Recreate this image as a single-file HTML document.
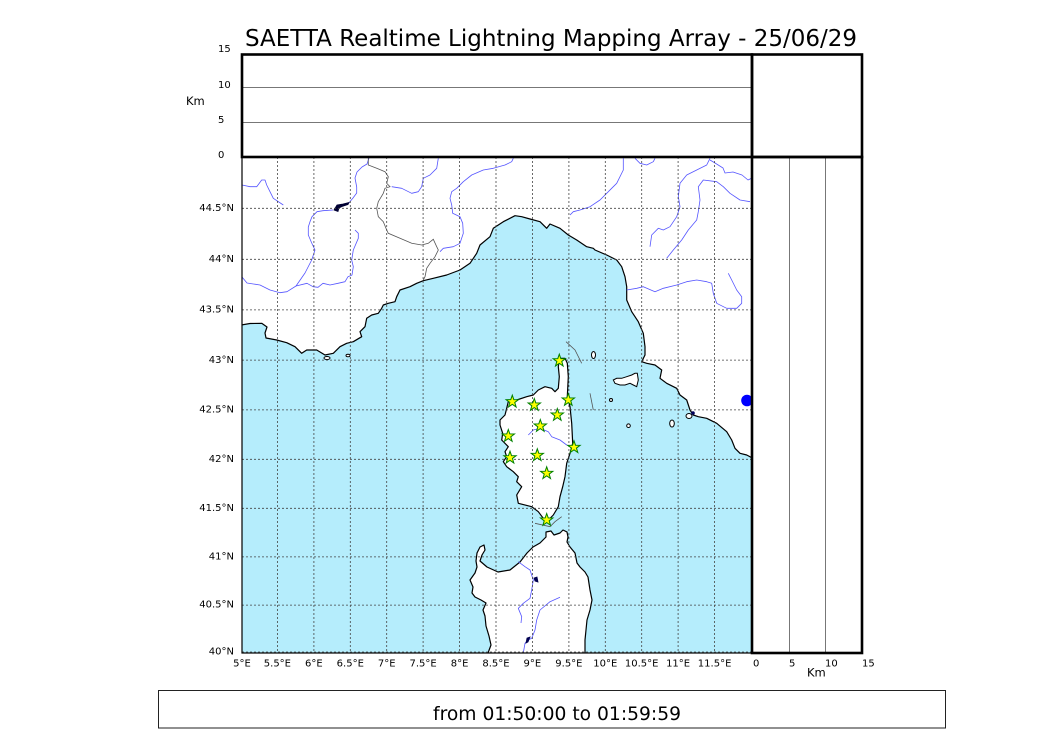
<!DOCTYPE html>
<html><head><meta charset="utf-8"><style>
html,body{margin:0;padding:0;background:#fff;}
svg{display:block;}
text{font-family:"DejaVu Sans","Liberation Sans",sans-serif;fill:#000;}
</style></head><body>
<svg width="1050" height="750" viewBox="0 0 1050 750" xmlns="http://www.w3.org/2000/svg">
<defs>
<polygon id="st" points="0,-6.5 1.53,-2.1 6.18,-2.01 2.47,0.8 3.82,5.26 0,2.6 -3.82,5.26 -2.47,0.8 -6.18,-2.01 -1.53,-2.1"/>
<clipPath id="mc"><rect x="242" y="157" width="510" height="496"/></clipPath>
</defs>
<rect width="1050" height="750" fill="#fff"/>
<text x="245" y="46" font-size="23" textLength="612" lengthAdjust="spacingAndGlyphs">SAETTA Realtime Lightning Mapping Array - 25/06/29</text>

<!-- map -->
<g clip-path="url(#mc)">
<rect x="242" y="157" width="510" height="496" fill="#b5edfc"/>
<!-- mainland -->
<polygon fill="#fff" points="242,325 250,323.5 261.7,323.3 267,327 265,333 266,338 276.7,340 286.7,342.7 295,346.7 301.7,353.3 306.7,350 316.7,350 325,355 333.3,353.3 340,346.7 346.7,343.3 353.3,341.7 361.7,336.7 360,331.7 365,326.7 366.7,318.3 371.7,315 378.3,313.3 381.7,308.3 383.3,305 388.3,303.3 395,301.7 396.7,296.7 400,290 410,286.7 416.7,283.3 423.3,280.7 433.3,278.3 446.7,275 460,270 470,263.3 476.7,253.3 480,245 490,236.7 493.3,228.3 503.3,221.7 515,215.7 521.7,216.7 530,219 540,221.7 546.7,228.3 550,224 560,228.3 568.3,235 576.7,240 586.7,246.7 593.3,248.3 595,250 606.7,255 616.7,260 621.7,266.7 625,276.7 626.7,286.7 626.7,300 631.7,311.7 638.3,321.7 643.3,333.3 645,346.7 645,355 641.7,361.7 646.7,363.3 655,365 661.7,370 660,378.3 666.7,383.3 676.7,388.3 680,395 686.7,400 690,410 693.3,415 698.3,416.7 706.7,418.3 716.7,423.3 726.7,431.7 731.7,440 735,448.3 740,453.3 746.7,455 753,458.3 753,156 241,156 241,325"/>
<polyline fill="none" stroke="#000" stroke-width="1.2" stroke-linejoin="round" points="241,325 250,323.5 261.7,323.3 267,327 265,333 266,338 276.7,340 286.7,342.7 295,346.7 301.7,353.3 306.7,350 316.7,350 325,355 333.3,353.3 340,346.7 346.7,343.3 353.3,341.7 361.7,336.7 360,331.7 365,326.7 366.7,318.3 371.7,315 378.3,313.3 381.7,308.3 383.3,305 388.3,303.3 395,301.7 396.7,296.7 400,290 410,286.7 416.7,283.3 423.3,280.7 433.3,278.3 446.7,275 460,270 470,263.3 476.7,253.3 480,245 490,236.7 493.3,228.3 503.3,221.7 515,215.7 521.7,216.7 530,219 540,221.7 546.7,228.3 550,224 560,228.3 568.3,235 576.7,240 586.7,246.7 593.3,248.3 595,250 606.7,255 616.7,260 621.7,266.7 625,276.7 626.7,286.7 626.7,300 631.7,311.7 638.3,321.7 643.3,333.3 645,346.7 645,355 641.7,361.7 646.7,363.3 655,365 661.7,370 660,378.3 666.7,383.3 676.7,388.3 680,395 686.7,400 690,410 693.3,415 698.3,416.7 706.7,418.3 716.7,423.3 726.7,431.7 731.7,440 735,448.3 740,453.3 746.7,455 753,458.3"/>
<!-- Corsica -->
<polygon fill="#fff" stroke="#000" stroke-width="1.2" stroke-linejoin="round" points="560,358.3 565,358.3 567.3,363.3 568.3,376.7 567.3,396.7 570,406.7 571.7,423.3 572.7,443.3 570,453.3 566.7,463.3 565,476.7 562.7,486.7 560,496.7 558.3,506.7 553.3,515 548.3,520 543.3,518.3 538.3,511.7 531.7,506.7 518.3,503.3 516.7,495 521.7,486.7 516.7,481.7 518.3,476.7 513.3,471.7 506.7,466.7 503.3,461.7 506.7,456.7 505,451.7 508.3,446.7 501.7,440 502.7,433.3 500,425 500,420 505,415 506.7,408.3 508.3,401.7 516.7,400 526.7,396.7 533.3,395 538.3,390 545,386.7 551.7,388.3 555,391.7 558.3,388.3 559.3,376.7 558.3,366.7 559.3,360"/>
<!-- Sardinia -->
<polygon fill="#fff" stroke="#000" stroke-width="1.2" stroke-linejoin="round" points="488,656 488,653 491,645 489,636 486,626 485,616 483,610 486,603 481,600 475,597 472,593 473,587 470,580 475,573 477,567 476,561 477,553 480,547 484,545 485,550 482,555 480,561 487,567 498,572 510,570 520,562 527,553 533,547 540,543 546,537 546,532 551,531 554,535 560,533 563,530 567,532 568,537 567,542 570,547 575,553 577,563 580,567 585,572 588,577 590,590 592,600 590,610 587,620 586,630 585,640 585,656"/>
<!-- islands -->
<g fill="#fff" stroke="#000" stroke-width="1">
<ellipse cx="593.5" cy="355" rx="2" ry="3.5"/>
<polygon points="613.3,380 616.7,378.3 621.7,378.3 626.7,376.7 631.7,375 635,373.3 637.3,373.3 638.3,380 636.7,386.7 633.3,385 630,383.3 625,385 620,385 615,383.3"/>
<circle cx="611" cy="400" r="1.5"/>
<circle cx="628.5" cy="425.7" r="1.8"/>
<ellipse cx="672" cy="423.5" rx="2.3" ry="3.5"/>
<ellipse cx="327" cy="358" rx="3" ry="1.5"/>
<ellipse cx="348" cy="355.5" rx="2" ry="1.3"/>
<ellipse cx="689" cy="416" rx="3" ry="2.5"/>
</g>
<!-- rivers -->
<g fill="none" stroke="#5555ff" stroke-width="0.8" stroke-linejoin="round">
<polyline points="242,277 247,283 260,285 270,290 280,292.7 287,291.7 296,286 307,283.3 313,286.7 318,287.3 323,283.3 330,285 338,283.3 345,281.7 348,276.7 352,275 353.3,266.7 351.7,260 353.3,250 358.3,238.3 358.3,233.3 355,230"/>
<polyline points="296,286 305,273 311.7,260 315,250 311.7,243 308.3,235 308.3,227 310,221.7 312,216.7 317,211.7 323,210.7 333,210"/>
<polyline points="348,204 353,198 356.7,193 356.7,187 355,178 357,172 362,167 367,164 369,158"/>
<polyline points="242,185 250,186.7 256.7,186.7 261.7,180 265,180 266.7,185 270,191.7 273.3,198.3 283.3,205"/>
<polyline points="438.3,158.3 436.7,168.3 430,175 423.3,178.3 421.7,186.7 418.3,191.7 411.7,193.3 401.7,188.3 391.7,186.7"/>
<polyline points="513.3,158.3 511.7,161.7 505,165 493.3,168.3 483.3,170 471.7,175 463.3,181.7 456.7,188.3 451.7,191.7 450,198.3 451.7,205 452.7,213.3 460,216.7 462.7,223.3 463.3,233.3 460,243.3 453.3,246.7 443.3,248.3 440,251.7"/>
<polyline points="623.3,158.3 623.3,170 616.7,183.3 608.3,191.7 600,200 590,206.7 580,210 573.3,211.7 570,215"/>
<polyline points="635,158.3 640,163.3 646.7,165 653.3,161.7 655,158.3"/>
<polyline points="710,158.3 706.7,165 696.7,170 686.7,175 680,183.3 678.3,196.7 680,206.7 676.7,216.7 670,226.7 663.3,230 658.3,228.3 651.7,235 650,246.7"/>
<polyline points="710,160 715,163 723,168 725,173 733,172 742,175 748,180 752,178"/>
<polyline points="750,201.7 740,200 730,193.3 723.3,186.7 716.7,181.7 703.3,180 698.3,186.7 700,200 698.3,211.7 696.7,220 688.3,230 681.7,240 673.3,250 666.7,258.3"/>
<polyline points="626.7,290 636.7,288.3 643.3,286.7 655,291.7 663.3,288.3 676.7,285 686.7,281.7 696.7,280 706.7,281.7 711.7,283.3 713.3,293.3 716.7,303.3 726.7,308.3 736.7,308.3 741.7,303.3 741.7,296.7 736.7,290 731.7,280 728.3,273.3"/>
<polyline points="528.3,435 533.3,430 540,428.3 548.3,431.7 551.7,436.7 560,440 566.7,445 571.7,447.3"/>
<polyline points="518.3,561.7 525,566.7 530,570 533.3,580 531.7,590 530,598.3 523.3,603.3 518.3,608.3 521.7,616.7 521,623"/>
<polyline points="560,597.3 550,601.7 540,610 536.7,620 535,630 531.7,638.3 528,640 525,643.3 523.3,653"/>
</g>
<!-- borders -->
<g fill="none" stroke="#555" stroke-width="0.8">
<polyline points="368.3,157 368.3,165 376.7,168.3 385,171.7 388.3,176.7 386.7,183.3 390,186.7 385,188.3 383.3,193.3 378.3,201.7 376.7,208.3 378.3,216.7 383.3,221.7 386.7,230 388.3,233.3 400,238.3 411.7,243.3 421.7,245 428.3,243.3 433.3,239.3 436.7,246.7 438.3,250 435,256.7 430,263.3 426.7,268.3 425,276.7 423.3,280"/>
<polyline points="566,341.7 575,350 581.7,363.3"/>
<polyline points="590,393.3 593.3,410"/>
<polyline points="535,523.3 550,526.7 555,521.7 561.7,516.7"/>
</g>
<!-- lakes -->
<path d="M334,210 L337,205 343,204 349,202.5 348,204.5 342,206.5 339,208 338,211.5 Z" fill="#000033" stroke="#000033" stroke-width="0.8"/>
<path d="M534,578 L537,577 538,582 535,581 Z" fill="#000050" stroke="#000050" stroke-width="0.8"/>
<path d="M526,643 L527,638 530,637 528,642 Z" fill="#000050" stroke="#000050" stroke-width="0.8"/>
<circle cx="693" cy="413" r="1.8" fill="#00005a"/>
<circle cx="747" cy="400.5" r="5.8" fill="#0000ff"/>
<!-- grid -->
<g stroke="#444" stroke-width="0.8" stroke-dasharray="2,2" fill="none">
<path d="M277.4,157V653M313.9,157V653M350.3,157V653M386.7,157V653M423.1,157V653M459.6,157V653M496,157V653M532.4,157V653M568.9,157V653M605.3,157V653M641.7,157V653M678.1,157V653M714.6,157V653"/>
<path d="M242,605.1H752M242,556.9H752M242,508.3H752M242,459.3H752M242,409.9H752M242,360.1H752M242,309.9H752M242,259.3H752M242,208.3H752M242,652H752"/>
</g>
<!-- stars -->
<g fill="#ffff00" stroke="#008000" stroke-width="1" stroke-linejoin="miter">
<use href="#st" x="559.3" y="360.7"/>
<use href="#st" x="512.3" y="401.7"/>
<use href="#st" x="534.3" y="405"/>
<use href="#st" x="568.3" y="400"/>
<use href="#st" x="557.3" y="415"/>
<use href="#st" x="540.3" y="426"/>
<use href="#st" x="508.3" y="436"/>
<use href="#st" x="574" y="447.3"/>
<use href="#st" x="510" y="457.7"/>
<use href="#st" x="537.3" y="455.3"/>
<use href="#st" x="546.7" y="473.3"/>
<use href="#st" x="546.7" y="520"/>
</g>
</g>
<!-- map frame -->
<rect x="242" y="157" width="510" height="496" fill="none" stroke="#000" stroke-width="1.2"/>

<!-- top panel -->
<g stroke="#777" stroke-width="1">
<line x1="242" y1="87.5" x2="752" y2="87.5"/>
<line x1="242" y1="122.5" x2="752" y2="122.5"/>
<line x1="789.5" y1="157" x2="789.5" y2="653"/>
<line x1="825.5" y1="157" x2="825.5" y2="653"/>
</g>
<g fill="none" stroke="#000" stroke-width="2.6">
<rect x="242" y="54.5" width="510" height="102.5"/>
<rect x="752" y="54.5" width="110" height="102.5"/>
<rect x="752" y="157" width="110" height="496"/>
</g>

<!-- labels -->
<g font-size="10">
<text x="218" y="52">15</text>
<text x="218" y="88">10</text>
<text x="218" y="123">5</text>
<text x="218" y="158">0</text>
</g>
<text x="186" y="105" font-size="11.5">Km</text>
<g font-size="10" text-anchor="end">
<text x="234" y="211">44.5°N</text>
<text x="234" y="262">44°N</text>
<text x="234" y="312.5">43.5°N</text>
<text x="234" y="363">43°N</text>
<text x="234" y="412.5">42.5°N</text>
<text x="234" y="462">42°N</text>
<text x="234" y="511">41.5°N</text>
<text x="234" y="559.5">41°N</text>
<text x="234" y="607.5">40.5°N</text>
<text x="234" y="654.5">40°N</text>
</g>
<g font-size="10" text-anchor="middle">
<text x="242" y="666.5">5°E</text>
<text x="277.4" y="666.5">5.5°E</text>
<text x="313.9" y="666.5">6°E</text>
<text x="350.3" y="666.5">6.5°E</text>
<text x="386.7" y="666.5">7°E</text>
<text x="423.1" y="666.5">7.5°E</text>
<text x="459.6" y="666.5">8°E</text>
<text x="496" y="666.5">8.5°E</text>
<text x="532.4" y="666.5">9°E</text>
<text x="568.9" y="666.5">9.5°E</text>
<text x="605.3" y="666.5">10°E</text>
<text x="641.7" y="666.5">10.5°E</text>
<text x="678.1" y="666.5">11°E</text>
<text x="714.6" y="666.5">11.5°E</text>
</g>
<g font-size="10">
<text x="753" y="666.5">0</text>
<text x="789" y="666.5">5</text>
<text x="825" y="666.5">10</text>
<text x="862" y="666.5">15</text>
</g>
<text x="807" y="676.5" font-size="11.5">Km</text>

<!-- bottom box -->
<rect x="158.5" y="690.5" width="787" height="37.5" fill="none" stroke="#222" stroke-width="1"/>
<text x="433" y="720" font-size="19" textLength="248" lengthAdjust="spacingAndGlyphs">from 01:50:00 to 01:59:59</text>
</svg>
</body></html>
